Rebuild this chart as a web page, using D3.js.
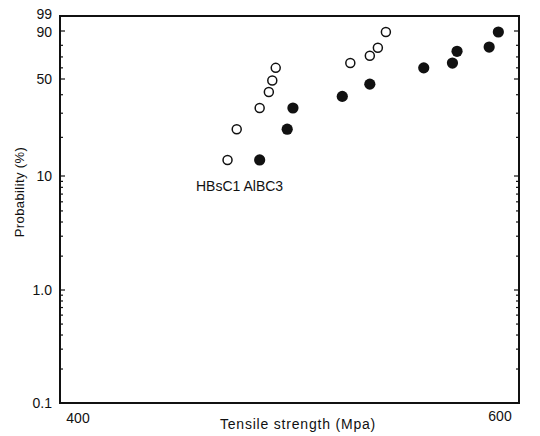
<!DOCTYPE html>
<html>
<head>
<meta charset="utf-8">
<script src="https://cdn.jsdelivr.net/npm/d3@7"></script>
<style>
  body { margin: 0; background: #fff; }
  text { font-family: "Liberation Sans", Arial, sans-serif; fill: #111; }
</style>
</head>
<body>
<svg id="chart" width="540" height="436"></svg>
<script>
// HBsC1 (open circles)
const hbsStrength = [473, 477, 487, 491, 492.5, 494, 526.5, 535, 538.5, 542];
const hbsProb = [13.4, 23, 32.6, 41.6, 49, 60, 64.4, 71, 78, 89.4];
// AlBC3 (filled circles)
const albStrength = [487, 499, 501.5, 523, 535, 558.5, 571, 573, 587, 591];
const albProb = [13.4, 23, 32.6, 39, 46.6, 60, 64.4, 75, 78.6, 89.4];

const yMajor = [0.1, 1, 10, 50, 90, 99];
const yLabels = ["0.1", "1.0", "10", "50", "90", "99"];
const yMinor = [0.2, 0.3, 0.4, 0.5, 0.6, 0.7, 0.8, 0.9, 2, 3, 4, 5, 6, 7, 8, 9, 20, 30, 40, 60, 70, 80];
const xLabels = [400, 600];

const plotL = 60, plotR = 519, plotT = 16, plotB = 403;
const svg = d3.select("#chart");

// weibull-type probability paper: ln(-ln(1-F))
const wb = p => Math.log(-Math.log(1 - p / 100));

const x = d3.scaleLinear().domain([400, 600]).range([plotL, plotR]);
// paper is not quite uniform, so pin each labelled value
const y = d3.scaleLinear()
  .domain(yMajor.map(wb))
  .range([plotB, 290, 176, 79, 31, plotT]);
const yp = p => y(wb(p));

// frame
svg.append("rect")
  .attr("x", plotL).attr("y", plotT)
  .attr("width", plotR - plotL).attr("height", plotB - plotT)
  .attr("fill", "none").attr("stroke", "#111").attr("stroke-width", 2);

// ticks on both sides
const tickG = svg.append("g").attr("stroke", "#111").attr("stroke-width", 1.2);
[[yMajor, 5], [yMinor, 3]].forEach(([vals, len]) => {
  vals.forEach(v => {
    const yy = yp(v);
    tickG.append("line").attr("x1", plotL).attr("x2", plotL + len).attr("y1", yy).attr("y2", yy);
    tickG.append("line").attr("x1", plotR).attr("x2", plotR - len).attr("y1", yy).attr("y2", yy);
  });
});

// y tick labels (99 and 90 sit very close, nudge them apart a touch)
svg.append("g").selectAll("text")
  .data(yMajor)
  .join("text")
  .attr("x", plotL - 8)
  .attr("y", d => yp(d) + (d === 99 ? -1.5 : d === 90 ? 1 : 0))
  .attr("dy", "0.35em")
  .attr("text-anchor", "end")
  .attr("font-size", 14)
  .text((d, i) => yLabels[i]);

// x tick labels, set in from the corners
svg.append("text")
  .attr("x", x(xLabels[0]) + 18).attr("y", 423)
  .attr("text-anchor", "middle").attr("font-size", 14)
  .text(xLabels[0]);
svg.append("text")
  .attr("x", x(xLabels[1]) - 19).attr("y", 421)
  .attr("text-anchor", "middle").attr("font-size", 14)
  .text(xLabels[1]);

// axis titles
svg.append("text")
  .attr("x", 298).attr("y", 429)
  .attr("text-anchor", "middle").attr("font-size", 14)
  .attr("letter-spacing", 0.8)
  .text("Tensile  strength (Mpa)");
svg.append("text")
  .attr("transform", "translate(24,192) rotate(-90)")
  .attr("text-anchor", "middle").attr("font-size", 13)
  .attr("letter-spacing", 0.4)
  .text("Probability (%)");

// points
svg.append("g").selectAll("circle")
  .data(hbsStrength)
  .join("circle")
  .attr("cx", d => x(d))
  .attr("cy", (d, i) => yp(hbsProb[i]))
  .attr("r", 4.5)
  .attr("fill", "#fff")
  .attr("stroke", "#111")
  .attr("stroke-width", 1.5);

svg.append("g").selectAll("circle")
  .data(albStrength)
  .join("circle")
  .attr("cx", d => x(d))
  .attr("cy", (d, i) => yp(albProb[i]))
  .attr("r", 5.6)
  .attr("fill", "#111");

// series labels
svg.append("text")
  .attr("x", 196).attr("y", 191)
  .attr("font-size", 14)
  .text("HBsC1  AlBC3");
</script>
</body>
</html>
